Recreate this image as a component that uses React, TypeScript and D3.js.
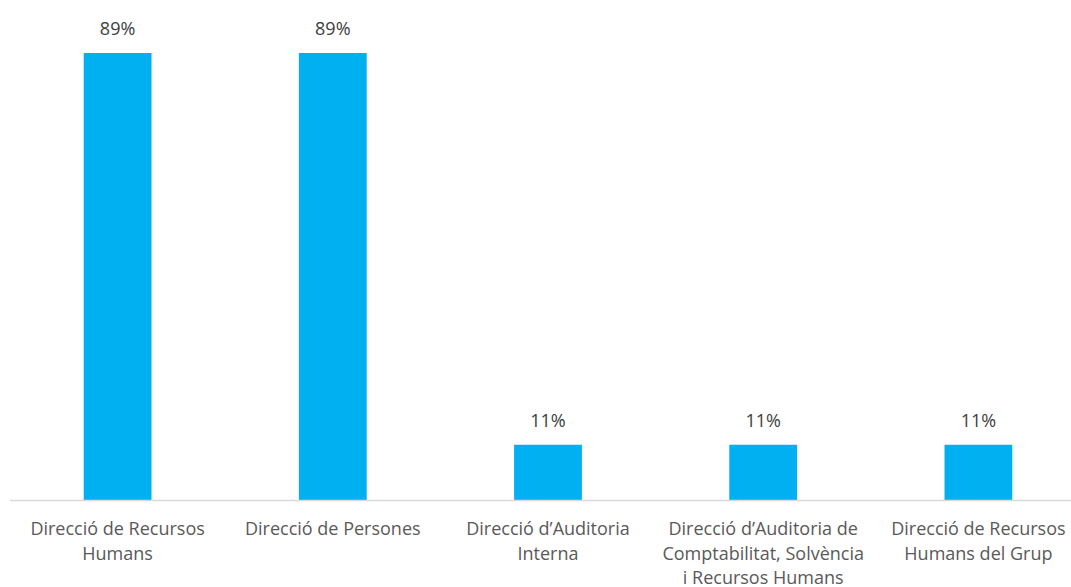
import React from "react";
import * as d3 from "d3";

const categories: string[][] = [
  ["Direcció de Recursos", "Humans"],
  ["Direcció de Persones"],
  ["Direcció d\u2019Auditoria", "Interna"],
  ["Direcció d\u2019Auditoria de", "Comptabilitat, Solvència", "i Recursos Humans"],
  ["Direcció de Recursos", "Humans del Grup"],
];
const values: number[] = [89, 89, 11, 11, 11];
const valueLabels: string[] = ["89%", "89%", "11%", "11%", "11%"];

export default function App() {
  const W = 1071, H = 587;
  const x = d3.scaleBand<number>().domain(d3.range(values.length)).range([10, 1086]).paddingInner(0.685).paddingOuter(0.3425);
  const y = d3.scaleLinear().domain([0, 89]).range([500, 53]);
  const font = "'Open Sans', sans-serif";
  return (
    <svg width={W} height={H} style={{ position: "absolute", left: 0, top: 0 }}>
      <rect width={W} height={H} fill="#fff" />
      {values.map((v, i) => (
        <rect key={i} x={x(i)} y={y(v)} width={x.bandwidth()} height={y(0) - y(v)} fill="#00B0F0" />
      ))}
      <line x1={10} x2={1071} y1={500.5} y2={500.5} stroke="#D9D9D9" strokeWidth={1.5} />
      {values.map((v, i) => (
        <text key={i} x={(x(i) as number) + x.bandwidth() / 2} y={y(v) - 18} textAnchor="middle" fontFamily={font} fontSize={18} fill="#404040">
          {valueLabels[i]}
        </text>
      ))}
      {categories.map((lines, i) => (
        <text key={i} x={(x(i) as number) + x.bandwidth() / 2} y={535} textAnchor="middle" fontFamily={font} fontSize={18} fill="#595959">
          {lines.map((l, j) => (
            <tspan key={j} x={(x(i) as number) + x.bandwidth() / 2} dy={j === 0 ? 0 : 24.5}>{l}</tspan>
          ))}
        </text>
      ))}
    </svg>
  );
}
